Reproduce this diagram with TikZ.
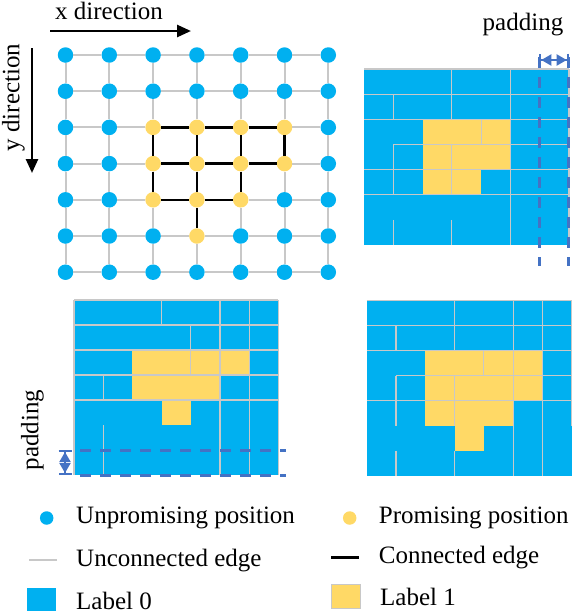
\documentclass[tikz,border=0pt]{standalone}
\usepackage{fontspec}
\setmainfont{Liberation Serif}
\usepackage{xcolor}
\definecolor{LabelBlue}{HTML}{00B0F0}
\definecolor{LabelYellow}{HTML}{FFD966}
\definecolor{EdgeGrey}{HTML}{C8C8C8}
\definecolor{PadBlue}{HTML}{4472C4}
\usepackage{tikz}
\usetikzlibrary{arrows.meta}
\pgfmathdeclarefunction{promising}{2}{%
  \pgfmathparse{((#1==2||#1==3)&&#2>1&&#2<6)||(#1==4&&#2>1&&#2<5)||(#1==5&&#2==3)}%
}
\tikzset{
  udot/.style={
    circle,
    fill=LabelBlue,
    inner sep=0pt,
    minimum size=15.5pt
  },
  pdot/.style={
    circle,
    fill=LabelYellow,
    inner sep=0pt,
    minimum size=15.5pt
  },
  uedge/.style={
    draw=EdgeGrey,
    line width=2pt
  },
  cedge/.style={
    draw=black,
    line width=2.3pt
  },
  tileline/.style={
    draw=EdgeGrey,
    line width=1.1pt
  },
  padline/.style={
    draw=PadBlue,
    line width=3pt,
    dash pattern=on 11pt off 9pt
  },
  padarrow/.style={
    draw=PadBlue,
    line width=2pt,
    {Bar[width=13pt]Triangle[length=10pt,width=11pt]}-{Triangle[length=10pt,width=11pt]Bar[width=13pt]}
  },
  dirarrow/.style={
    draw=black,
    line width=2.6pt,
    -{Triangle[length=14pt,width=12pt]}
  },
  lbl/.style={
    font=\fontsize{25}{30}\selectfont,
    inner sep=0pt
  }
}

\begin{document}
\begin{tikzpicture}[x=1pt,y=-1pt]
  \useasboundingbox (0,0) rectangle (572,614);

  % direction arrows
  \coordinate (xs) at (50,31);
  \coordinate (xe) at (191,31);
  \coordinate (ys) at (32,48);
  \coordinate (ye) at (32,173);
  \draw[dirarrow] (xs) -- (xe);
  \draw[dirarrow] (ys) -- (ye);
  \node[lbl] (xlab) at (109,11) {x direction};
  \node[lbl,rotate=90] (ylab) at (13.5,97.5) {y direction};

  % position graph
  \foreach \r in {0,...,6}{
    \foreach \c in {0,...,6}{
      \pgfmathtruncatemacro\hit{promising(\r,\c)}
      \ifnum\hit=1
        \node[pdot] (g-\r-\c) at ({65.5+43.8*\c},{55+36.2*\r}) {};
      \else
        \node[udot] (g-\r-\c) at ({65.5+43.8*\c},{55+36.2*\r}) {};
      \fi
    }
  }
  \foreach \r in {0,...,6}{\foreach \c [count=\n] in {0,...,5}{\draw[uedge] (g-\r-\c) -- (g-\r-\n);}}
  \foreach \c in {0,...,6}{\foreach \r [count=\n] in {0,...,5}{\draw[uedge] (g-\r-\c) -- (g-\n-\c);}}
  \foreach \a/\b in {2-2/2-3,2-3/2-4,2-4/2-5,3-2/3-3,3-3/3-4,3-4/3-5,4-2/4-3,4-3/4-4,
                     2-2/3-2,3-2/4-2,2-3/3-3,3-3/4-3,4-3/5-3,2-4/3-4,3-4/4-4,2-5/3-5}{\draw[cedge] (g-\a) -- (g-\b);}

  % label map, padded on the right
  \begin{scope}[shift={(364,69)},x=29.28pt,y=-25.14pt]
    \fill[LabelBlue] (0,0) rectangle (7,7);
    \fill[LabelYellow] (2,2) rectangle (5,4);
    \fill[LabelYellow] (2,4) rectangle (4,5);
    \foreach \c/\a/\b in {1/1/2,1/3/5,1/6/7,3/0/2,3/3/5,3/6/7,4/2/3,5/0/7,7/0/7}{\draw[tileline] (\c,\a) -- (\c,\b);}
    \foreach \r/\a/\b in {0/0/7,1/0/7,2/0/7,3/1/7,4/0/7,5/0/7}{\draw[tileline] (\a,\r) -- (\b,\r);}
  \end{scope}
  \draw[padline] (539.3,57) -- (539.3,266);
  \draw[padline] (568.7,57) -- (568.7,266);
  \draw[padarrow] (539.3,60) -- (568.7,60);
  \node[lbl] (padtop) at (523,25) {padding};

  % label map, padded at the bottom
  \begin{scope}[shift={(74,300)},x=29.19pt,y=-25pt]
    \fill[LabelBlue] (0,0) rectangle (7,7);
    \fill[LabelYellow] (2,2) rectangle (6,3);
    \fill[LabelYellow] (2,3) rectangle (5,4);
    \fill[LabelYellow] (3,4) rectangle (4,5);
    \foreach \c/\a/\b in {0/0/7,1/3/4,1/5/7,3/0/1,4/1/3,5/0/7,6/0/7,7/0/7}{\draw[tileline] (\c,\a) -- (\c,\b);}
    \foreach \r/\a/\b in {0/0/7,1/0/7,2/0/7,3/0/7,4/0/7}{\draw[tileline] (\a,\r) -- (\b,\r);}
  \end{scope}
  \draw[padline] (80,450) -- (286,450);
  \draw[padline] (80,475) -- (286,475);
  \draw[padarrow] (65,450) -- (65,475);
  \node[lbl,rotate=90] (padleft) at (32.5,430) {padding};

  % label map, no padding
  \begin{scope}[shift={(366.7,300.7)},x=29.28pt,y=-25pt]
    \fill[LabelBlue] (0,0) rectangle (7,7);
    \fill[LabelYellow] (2,2) rectangle (6,4);
    \fill[LabelYellow] (2,4) rectangle (5,5);
    \fill[LabelYellow] (3,5) rectangle (4,6);
    \foreach \c/\a/\b in {1/1/2,1/3/5,1/6/7,3/0/2,3/3/5,3/6/7,4/2/3,5/0/7,6/0/7,7/0/5}{\draw[tileline] (\c,\a) -- (\c,\b);}
    \foreach \r/\a/\b in {0/0/7,1/0/7,2/0/7,3/1/7,4/0/7}{\draw[tileline] (\a,\r) -- (\b,\r);}
  \end{scope}

  % legend
  \node[udot,minimum size=13.5pt] (key-u) at (46.7,518) {};
  \node[lbl,anchor=west] (key-u-txt) at (76,518) {Unpromising position};
  \node[pdot,minimum size=13.5pt] (key-p) at (349.7,518) {};
  \node[lbl,anchor=west] (key-p-txt) at (378.7,517.5) {Promising position};
  \draw[uedge] (29,560) -- (57,560);
  \node[lbl,anchor=west] (key-ue-txt) at (76,560.5) {Unconnected edge};
  \draw[cedge,line width=3pt] (331,557.7) -- (359,557.7);
  \node[lbl,anchor=west] (key-ce-txt) at (378.7,558) {Connected edge};
  \fill[LabelBlue] (27,588) rectangle (56,611);
  \node[lbl,anchor=west] (key-0-txt) at (76,600.5) {Label 0};
  \filldraw[fill=LabelYellow,draw=EdgeGrey,line width=1pt] (331,584) rectangle (360,608);
  \node[lbl,anchor=west] (key-1-txt) at (380,597) {Label 1};
\end{tikzpicture}
\end{document}
